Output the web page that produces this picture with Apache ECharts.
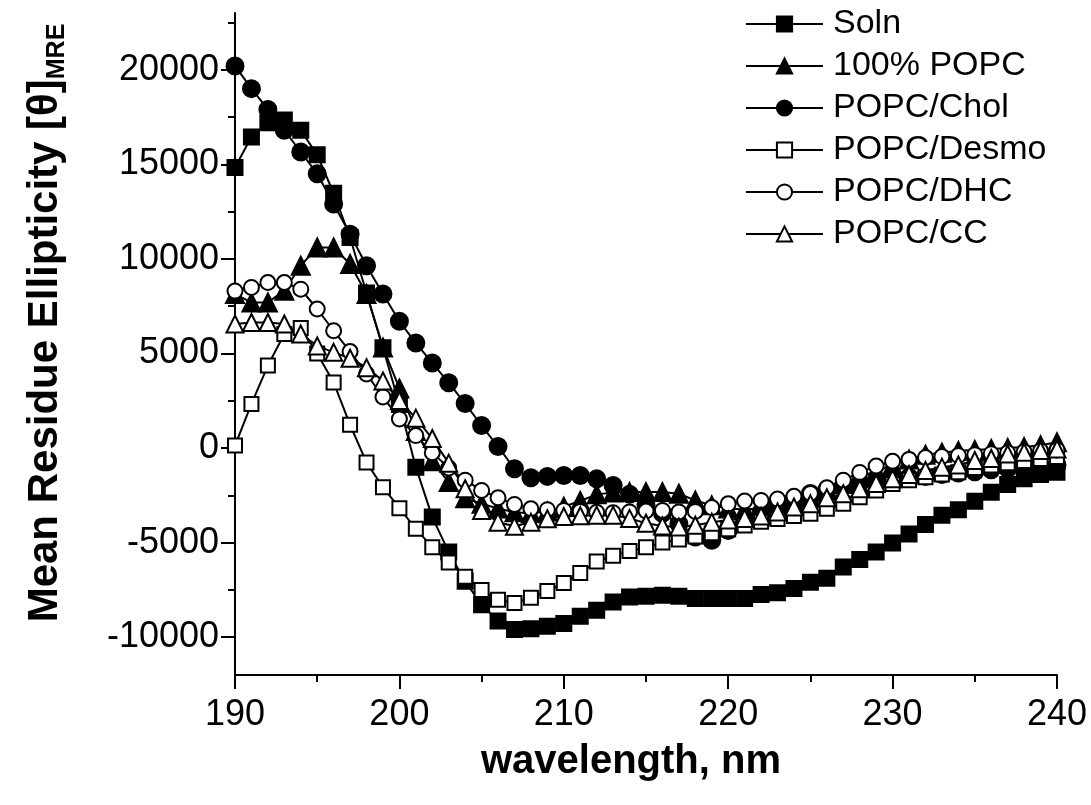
<!DOCTYPE html>
<html>
<head>
<meta charset="utf-8">
<script src="https://cdn.jsdelivr.net/npm/echarts@6/dist/echarts.min.js"></script>
<style>
  html, body { margin: 0; padding: 0; background: #fff; }
  #chart { width: 1091px; height: 805px; }
</style>
</head>
<body>
<div id="chart"></div>
<script>
// wavelength, nm
var wavelength = [190, 191, 192, 193, 194, 195, 196, 197, 198, 199,
  200, 201, 202, 203, 204, 205, 206, 207, 208, 209,
  210, 211, 212, 213, 214, 215, 216, 217, 218, 219,
  220, 221, 222, 223, 224, 225, 226, 227, 228, 229,
  230, 231, 232, 233, 234, 235, 236, 237, 238, 239, 240]

var soln = [14830, 16450, 17200, 17340, 16800, 15500, 13470, 11130, 8200, 5300,
  2300, -1010, -3650, -5500, -7050, -8280, -9140, -9600, -9550, -9420,
  -9280, -8900, -8580, -8140, -7880, -7830, -7790, -7830, -7960, -7960,
  -7960, -7960, -7750, -7650, -7430, -7090, -6880, -6290, -5900, -5500,
  -5020, -4540, -4040, -3560, -3260, -2810, -2340, -1930, -1630, -1400, -1280]

var popc100 = [8140, 7700, 7700, 8320, 9640, 10600, 10600, 9730, 8140, 5320,
  3150, 900, -700, -1800, -2650, -2950, -3200, -3400, -3450, -3350,
  -3100, -2800, -2450, -2350, -2330, -2330, -2330, -2420, -2770, -3030,
  -3200, -3250, -3200, -3050, -2850, -2600, -2250, -1900, -1550, -1200,
  -900, -600, -350, -250, -150, -100, -50, 0, 50, 150, 300]

var popcChol = [20200, 19000, 17900, 16800, 15650, 14500, 12900, 11300, 9640, 8140,
  6700, 5550, 4500, 3450, 2350, 1190, 80, -1100, -1570, -1500,
  -1450, -1450, -1630, -1980, -2450, -3000, -3450, -4000, -4700, -4880,
  -4360, -3800, -3400, -3000, -2700, -2400, -2200, -2000, -1850, -1750,
  -1650, -1550, -1500, -1400, -1320, -1250, -1150, -1080, -1000, -950, -900]

var popcDesmo = [130, 2330, 4360, 6030, 6350, 5000, 3470, 1230, -770, -2070,
  -3180, -4270, -5240, -6050, -6800, -7500, -8020, -8190, -7910, -7560,
  -7140, -6610, -6000, -5700, -5450, -5250, -5000, -4840, -4680, -4500,
  -4300, -4100, -3900, -3750, -3600, -3470, -3210, -2950, -2600, -2250,
  -1900, -1700, -1550, -1400, -1280, -1050, -920, -800, -680, -580, -480]

var popcDhc = [8300, 8490, 8750, 8750, 8400, 7350, 6200, 5100, 3920, 2700,
  1540, 660, -250, -1050, -1700, -2240, -2630, -2980, -3210, -3260,
  -3300, -3350, -3400, -3420, -3380, -3330, -3300, -3380, -3350, -3150,
  -2950, -2800, -2770, -2700, -2550, -2400, -2100, -1700, -1290, -950,
  -700, -600, -500, -450, -400, -350, -300, -250, -200, -150, -100]

var popcCc = [6560, 6640, 6640, 6560, 6030, 5400, 5060, 4750, 4250, 3550,
  2510, 1580, 500, -800, -2150, -3300, -3920, -4140, -3920, -3740,
  -3620, -3580, -3550, -3550, -3720, -3980, -4120, -4170, -4080, -3920,
  -3800, -3720, -3600, -3380, -3120, -2950, -2630, -2420, -2150, -1880,
  -1630, -1400, -1190, -1010, -900, -660, -550, -320, -220, -130, -50]

var yMajorTicks = [-10000, -5000, 0, 5000, 10000, 15000, 20000]
var yMinorTicks = [-7500, -2500, 2500, 7500, 12500, 17500, 22500]

var font = 'Liberation Sans, Arial, sans-serif'

function pairs(vals) {
  return wavelength.map(function(w, i) { return [w, vals[i]] })
}

function lineSeries(name, vals, symbol, size) {
  return {
    name: name,
    type: 'line',
    data: pairs(vals),
    symbol: symbol,
    symbolSize: size,
    showAllSymbol: true,
    color: '#000',
    lineStyle: { color: '#000', width: 2 },
    itemStyle: { color: '#000', borderColor: '#000', borderWidth: 2 },
    emphasis: { disabled: true },
    animation: false
  }
}

var chart = echarts.init(document.getElementById('chart'))
chart.setOption({
  animation: false,
  backgroundColor: '#fff',
  textStyle: { fontFamily: font, color: '#000' },
  grid: { left: 235, right: 34, top: 13, bottom: 130, containLabel: false },
  xAxis: {
    type: 'value',
    min: 190,
    max: 240,
    interval: 10,
    axisLine: { onZero: false, lineStyle: { color: '#000', width: 2 } },
    axisTick: { length: 14, lineStyle: { color: '#000', width: 2 } },
    minorTick: { show: true, splitNumber: 2, length: 7, lineStyle: { color: '#000', width: 2 } },
    axisLabel: { fontSize: 36, color: '#000', margin: 22, fontFamily: font },
    splitLine: { show: false },
    minorSplitLine: { show: false }
  },
  yAxis: [
    {
      type: 'value',
      min: -12000,
      max: 23000,
      position: 'left',
      axisLine: { show: true, onZero: false, lineStyle: { color: '#000', width: 2 } },
      axisTick: { show: true, customValues: yMajorTicks, length: 14, lineStyle: { color: '#000', width: 2 } },
      axisLabel: {
        customValues: yMajorTicks,
        fontSize: 36,
        color: '#000',
        margin: 16,
        fontFamily: font,
        formatter: function(v) { return String(v) }
      },
      splitLine: { show: false }
    },
    {
      // minor ticks only
      type: 'value',
      min: -12000,
      max: 23000,
      position: 'left',
      axisLine: { show: false },
      axisTick: { show: true, customValues: yMinorTicks, length: 7, lineStyle: { color: '#000', width: 2 } },
      axisLabel: { show: false },
      splitLine: { show: false }
    }
  ],
  legend: {
    orient: 'vertical',
    left: 745,
    top: 7,
    padding: 0,
    itemWidth: 77,
    itemHeight: 19,
    itemGap: 8,
    selectedMode: false,
    textStyle: { fontSize: 34, color: '#000', fontFamily: font, padding: [0, 0, 0, 5] },
    data: ['Soln', '100% POPC', 'POPC/Chol', 'POPC/Desmo', 'POPC/DHC', 'POPC/CC']
  },
  graphic: [
    {
      type: 'text',
      x: 45,
      y: 323,
      rotation: Math.PI / 2,
      style: {
        text: '{a|Mean Residue Ellipticity [θ]}{b|MRE}',
        align: 'center',
        verticalAlign: 'middle',
        rich: {
          a: { fontSize: 42, fontWeight: 'bold', fontFamily: font, fill: '#000', lineHeight: 50 },
          b: { fontSize: 25, fontWeight: 'bold', fontFamily: font, fill: '#000', lineHeight: 50, verticalAlign: 'bottom' }
        }
      }
    },
    {
      type: 'text',
      x: 631,
      y: 762,
      style: {
        text: 'wavelength, nm',
        fontSize: 40,
        fontWeight: 'bold',
        fontFamily: font,
        fill: '#000',
        align: 'center',
        verticalAlign: 'middle'
      }
    }
  ],
  series: [
    lineSeries('Soln', soln, 'rect', 15),
    lineSeries('100% POPC', popc100, 'triangle', 18),
    lineSeries('POPC/Chol', popcChol, 'circle', 17),
    lineSeries('POPC/Desmo', popcDesmo, 'emptyRect', 14),
    lineSeries('POPC/DHC', popcDhc, 'emptyCircle', 15),
    lineSeries('POPC/CC', popcCc, 'emptyTriangle', 17)
  ]
})
</script>
</body>
</html>
